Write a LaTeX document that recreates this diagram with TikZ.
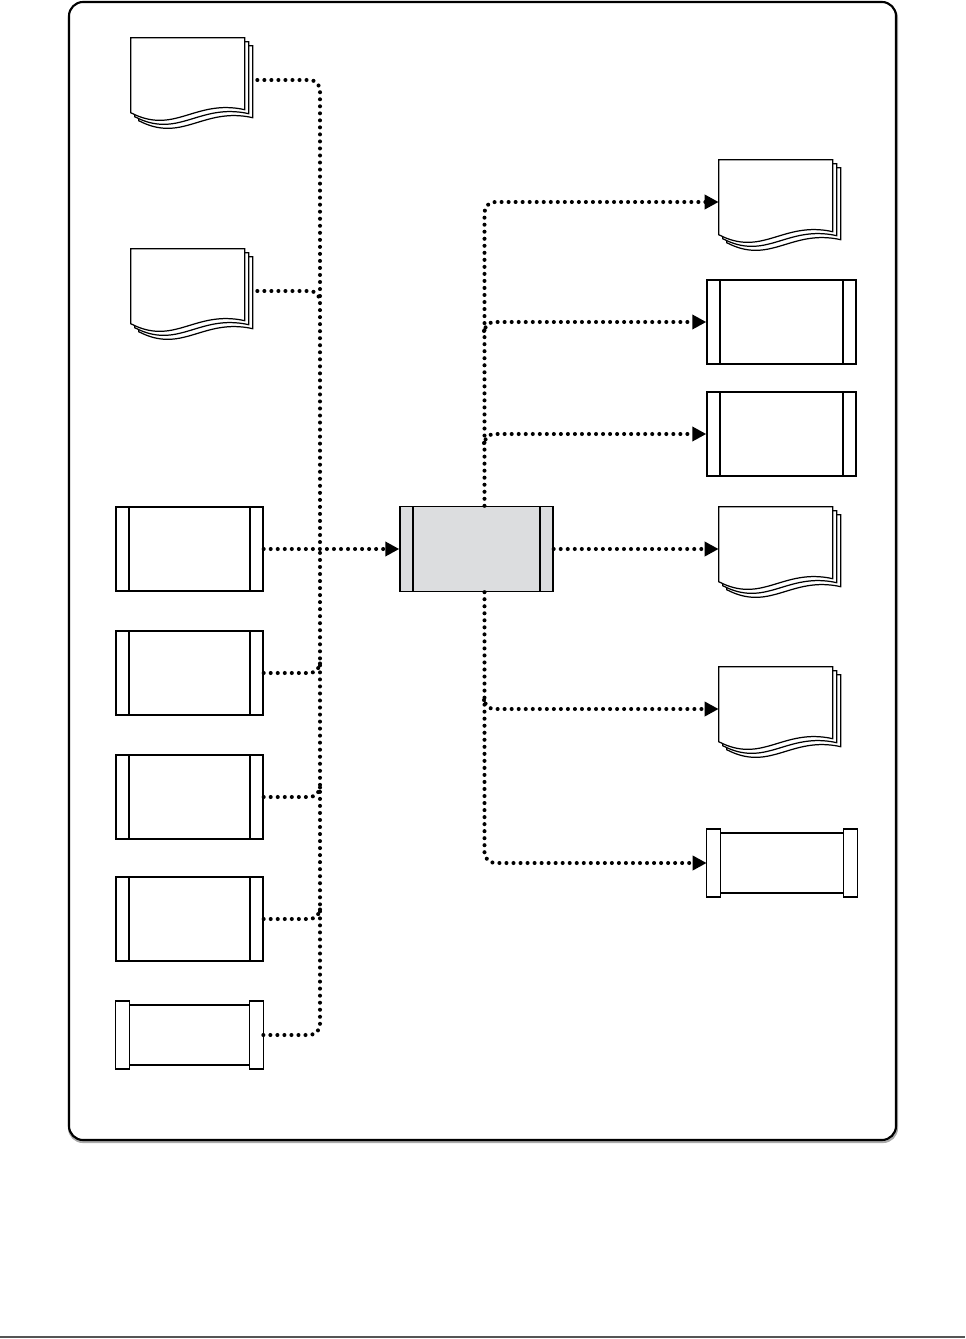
\documentclass[tikz,border=0pt]{standalone}
\usepackage{tikz}
\usetikzlibrary{arrows.meta,positioning}
\definecolor{procGray}{RGB}{220,221,223}
\definecolor{ruleGray}{RGB}{85,85,85}
\definecolor{frameShade}{RGB}{170,170,170}
\tikzset{
  frame/.style={draw=black, line width=1.2pt, rounded corners=8pt},
  predef/.style={draw, line width=0.8pt, fill=white, minimum width=2.94cm, minimum height=1.68cm, inner sep=0pt,
    path picture={\draw[line width=1.1pt]
      ([xshift=0.26cm]path picture bounding box.north west) -- ([xshift=0.26cm]path picture bounding box.south west)
      ([xshift=-0.26cm]path picture bounding box.north east) -- ([xshift=-0.26cm]path picture bounding box.south east);}},
  centerbox/.style={predef, fill=procGray, minimum width=3.06cm, minimum height=1.7cm},
  tapebox/.style={minimum width=2.94cm, minimum height=1.34cm, inner sep=0pt},
  docbox/.style={minimum width=2.44cm, minimum height=1.68cm, inner sep=0pt},
  page/.style={draw, line width=0.7pt, fill=white},
  dotline/.style={line width=2.3pt, line cap=round, dash pattern=on 0pt off 4pt, rounded corners=6pt},
  dotflow/.style={dotline, -{Triangle[length=0.28cm, width=0.28cm]}}
}

\begin{document}
\begin{tikzpicture}[x=0.02cm, y=-0.02cm]
        \useasboundingbox (0,0) rectangle (965,1339);
        % outer frame and page rule
        \draw[frame, draw=frameShade] (69,4) rectangle (897,1142);
        \draw[frame, fill=white] (69,2) rectangle (896,1140);
        \draw[ruleGray, line width=1.2pt] (0,1337) -- (965,1337);

        % inputs
        \node[docbox] (d1) at (192,80) {};
        \node[docbox] (d2) at (192,291) {};
        \node[predef] (p1) at (189.5,549) {};
        \node[predef] (p2) at (189.5,673) {};
        \node[predef] (p3) at (189.5,797) {};
        \node[predef] (p4) at (189.5,919) {};
        \node[tapebox] (p5) at (189.5,1035) {};

        % process
        \node[centerbox] (c) at (476.5,549) {};

        % outputs
        \node[docbox] (r1) at (780,202) {};
        \node[predef, minimum width=2.98cm] (r2) at (781.5,322) {};
        \node[predef, minimum width=2.98cm] (r3) at (781.5,434) {};
        \node[docbox] (r4) at (780,549) {};
        \node[docbox] (r5) at (780,709) {};
        \node[tapebox, minimum width=3cm] (r6) at (782,863) {};

        % stacked documents
        \foreach \n in {d1,d2,r1,r4,r5} {
          \foreach \o in {8,4,0} {
            \draw[page, shift={(\n.north west)}] (\o,\o) -- (114+\o,\o) -- (114+\o,72+\o)
              .. controls (64+\o,61+\o) and (44+\o,98+\o) .. (\o,75+\o) -- cycle;
          }
        }

        % tape boxes
        \foreach \n in {p5,r6} {
          \draw[line width=1.1pt] ([yshift=-0.08cm]\n.north west) -- ([yshift=-0.08cm]\n.north east)
            ([yshift=0.08cm]\n.south west) -- ([yshift=0.08cm]\n.south east);
          \draw[page, line width=0.8pt] (\n.north west) rectangle ([xshift=0.28cm]\n.south west)
            (\n.north east) rectangle ([xshift=-0.28cm]\n.south east);
        }

        % left bus
        \coordinate (jl) at (320,549);
        \coordinate (b2) at (320,300);
        \coordinate (b3) at (320,665);
        \coordinate (b4) at (320,789);
        \coordinate (b5) at (320,912);
        \draw[dotline] ([xshift=0.08cm]d1.east) -| (jl);
        \draw[dotline] ([xshift=0.08cm]d2.east) -| (b2);
        \draw[dotline] (p2.east) -| (b3);
        \draw[dotline] (p3.east) -| (b4);
        \draw[dotline] (p4.east) -| (b5);
        \draw[dotline] (p5.east) -| (jl);
        \draw[dotflow] (p1.east) -- (c.west);

        % right bus
        \coordinate (rt) at ([xshift=0.16cm]c.north);
        \coordinate (rb) at ([xshift=0.16cm]c.south);
        \coordinate (s2) at (484,331);
        \coordinate (s3) at (484,443);
        \coordinate (s5) at (484,700);
        \draw[dotflow] (rt) |- (r1.west);
        \draw[dotflow] (s2) |- (r2.west);
        \draw[dotflow] (s3) |- (r3.west);
        \draw[dotflow] (c.east) -- (c.east -| r4.west);
        \draw[dotflow] (s5) |- (r5.west);
        \draw[dotflow] (rb) |- (r6.west);
      \end{tikzpicture}
\end{document}
